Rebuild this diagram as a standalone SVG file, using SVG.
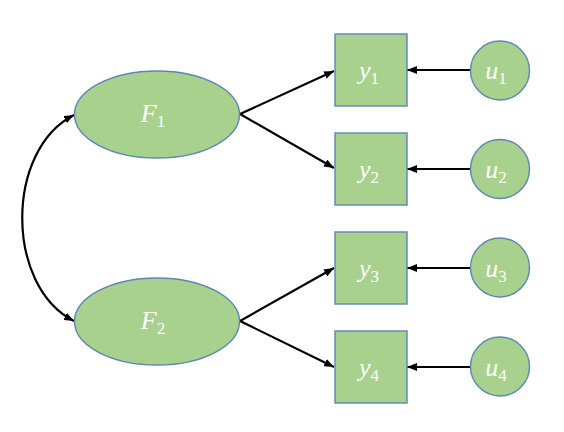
<svg xmlns="http://www.w3.org/2000/svg" width="564" height="432" viewBox="0 0 564 432">
  <style>
    .node { fill: #A9D18E; stroke: #5B87B5; stroke-width: 1.4; }
    .lbl { font-family: "Liberation Serif", "DejaVu Serif", serif; font-style: italic; font-size: 26px; fill: #FFFFFF; text-anchor: middle; }
    .sub { font-style: normal; font-size: 17px; }
    .edge { fill: none; stroke: #000000; stroke-width: 2.2; }
  </style>
  <defs>
    <marker id="arrow" markerUnits="userSpaceOnUse" markerWidth="10" markerHeight="8" refX="10" refY="4" orient="auto-start-reverse">
      <path d="M0,0 L10,4 L0,8 z" fill="#000000"/>
    </marker>
  </defs>
  <rect width="564" height="432" fill="#FFFFFF"/>

  <g id="connectors">
    <path class="edge" d="M240,114 L334,71" marker-end="url(#arrow)"/>
    <path class="edge" d="M240,114 L334,168" marker-end="url(#arrow)"/>
    <path class="edge" d="M240,321 L334,268" marker-end="url(#arrow)"/>
    <path class="edge" d="M240,321 L334,367" marker-end="url(#arrow)"/>
    <path class="edge" d="M470,70 L407,70" marker-end="url(#arrow)"/>
    <path class="edge" d="M470,169 L407,169" marker-end="url(#arrow)"/>
    <path class="edge" d="M470,268 L407,268" marker-end="url(#arrow)"/>
    <path class="edge" d="M470,367 L407,367" marker-end="url(#arrow)"/>
    <path class="edge" d="M74,115 C5,150 5,286 74,321" marker-start="url(#arrow)" marker-end="url(#arrow)"/>
  </g>

  <g id="F1">
    <ellipse class="node" cx="157" cy="114.5" rx="82.5" ry="43.5"/>
    <text class="lbl" x="153" y="122">F<tspan class="sub" dy="5">1</tspan></text>
  </g>
  <g id="F2">
    <ellipse class="node" cx="157" cy="321.5" rx="82.5" ry="43.5"/>
    <text class="lbl" x="153" y="329">F<tspan class="sub" dy="5">2</tspan></text>
  </g>

  <g id="y1">
    <rect class="node" x="335" y="34" width="72" height="72"/>
    <text class="lbl" x="369" y="79">y<tspan class="sub" dy="5">1</tspan></text>
  </g>
  <g id="y2">
    <rect class="node" x="335" y="133" width="72" height="72"/>
    <text class="lbl" x="369" y="178">y<tspan class="sub" dy="5">2</tspan></text>
  </g>
  <g id="y3">
    <rect class="node" x="335" y="232" width="72" height="72"/>
    <text class="lbl" x="369" y="277">y<tspan class="sub" dy="5">3</tspan></text>
  </g>
  <g id="y4">
    <rect class="node" x="335" y="331" width="72" height="72"/>
    <text class="lbl" x="369" y="376">y<tspan class="sub" dy="5">4</tspan></text>
  </g>

  <g id="u1">
    <circle class="node" cx="500" cy="70.5" r="29.5"/>
    <text class="lbl" x="496" y="79">u<tspan class="sub" dy="5">1</tspan></text>
  </g>
  <g id="u2">
    <circle class="node" cx="500" cy="169" r="29.5"/>
    <text class="lbl" x="496" y="178">u<tspan class="sub" dy="5">2</tspan></text>
  </g>
  <g id="u3">
    <circle class="node" cx="500" cy="267.5" r="29.5"/>
    <text class="lbl" x="496" y="277">u<tspan class="sub" dy="5">3</tspan></text>
  </g>
  <g id="u4">
    <circle class="node" cx="500" cy="366.5" r="29.5"/>
    <text class="lbl" x="496" y="376">u<tspan class="sub" dy="5">4</tspan></text>
  </g>
</svg>
